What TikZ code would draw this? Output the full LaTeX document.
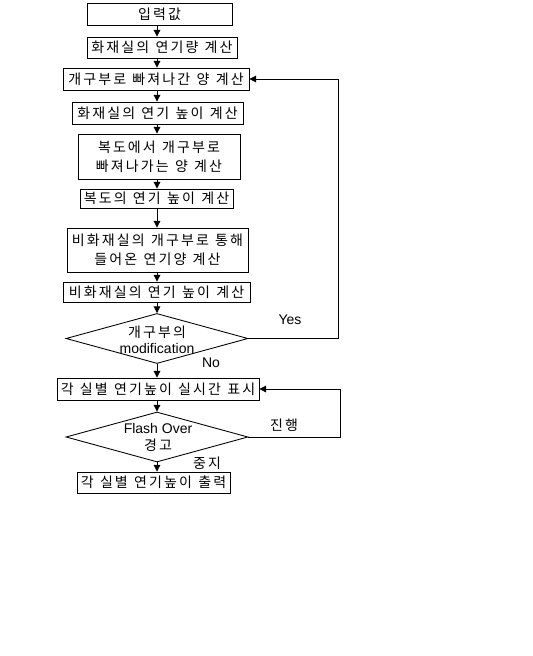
\documentclass[tikz,border=0pt]{standalone}
\usepackage{fontspec}
\setmainfont{Noto Sans CJK KR}
\newfontfamily\latinfont{Liberation Sans}
\usetikzlibrary{arrows.meta,shapes.geometric}
\newcommand\widewords{\spaceskip=0.45em\relax}
\begin{document}
\begin{tikzpicture}[x=0.75pt,y=-0.75pt,
  box/.style={draw,line width=0.65pt,rectangle,inner sep=0pt,align=center,
    font=\fontsize{10.5pt}{14pt}\selectfont\addfontfeature{LetterSpace=15}\widewords},
  dia/.style={draw,line width=0.65pt,diamond,aspect=3.64,inner sep=0pt},
  arr/.style={line width=0.65pt,-{Triangle[length=5pt,width=5pt]}},
  lbl/.style={font=\latinfont\fontsize{10.5pt}{13pt}\selectfont},
  klbl/.style={font=\fontsize{10.5pt}{13pt}\selectfont\addfontfeature{LetterSpace=15}}]
\useasboundingbox (0,0) rectangle (532,656);
\fill[white] (0,0) rectangle (532,656);
\node[box,minimum width=145*0.75pt,minimum height=22*0.75pt] (b1) at (159.5,14) {입력값};
\node[box,minimum width=150*0.75pt,minimum height=21*0.75pt] (b2) at (162,47.5) {화재실의 연기량 계산};
\node[box,minimum width=186*0.75pt,minimum height=22*0.75pt] (b3) at (156,79) {개구부로 빠져나간 양 계산};
\node[box,minimum width=171*0.75pt,minimum height=22*0.75pt] (b4) at (157.5,113) {화재실의 연기 높이 계산};
\node[box,minimum width=162*0.75pt,minimum height=45*0.75pt] (b5) at (159,156.5) {복도에서 개구부로\\빠져나가는 양 계산};
\node[box,minimum width=153*0.75pt,minimum height=19*0.75pt] (b6) at (156.5,198.5) {복도의 연기 높이 계산};
\node[box,minimum width=181*0.75pt,minimum height=44*0.75pt] (b7) at (157.5,250) {비화재실의 개구부로 통해\\들어온 연기양 계산};
\node[box,minimum width=187*0.75pt,minimum height=20*0.75pt] (b8) at (156.5,292) {비화재실의 연기 높이 계산};
\node[dia,minimum width=182*0.75pt,minimum height=50*0.75pt] (d1) at (157,338.5) {};
\node[klbl] (t1a) at (157,332) {개구부의};
\node[lbl] (t1b) at (157,348) {modification};
\node[box,minimum width=202*0.75pt,minimum height=22*0.75pt] (b9) at (158,389) {각 실별 연기높이 실시간 표시};
\node[dia,minimum width=182*0.75pt,minimum height=50*0.75pt] (d2) at (157,437) {};
\node[lbl] (t2a) at (158,428) {Flash Over};
\node[klbl] (t2b) at (158,445) {경고};
\node[box,minimum width=153*0.75pt,minimum height=21*0.75pt] (b10) at (153.5,482.5) {각 실별 연기높이 출력};
\node[lbl] (yes) at (290,320) {Yes};
\node[lbl] (no) at (211,363) {No};
\node[klbl] (go) at (284,425) {진행};
\node[klbl] (stop) at (207,463) {중지};
\coordinate (c1) at (338,338.5);
\coordinate (c2) at (338,79);
\coordinate (c3) at (340,437);
\coordinate (c4) at (340,389);
\draw[arr] (b1.south -| 157,0) -- (b2.north -| 157,0);
\draw[arr] (b2.south -| 157,0) -- (b3.north -| 157,0);
\draw[arr] (b3.south -| 157,0) -- (b4.north -| 157,0);
\draw[arr] (b4.south -| 157,0) -- (b5.north -| 157,0);
\draw[arr] (b5.south -| 157,0) -- (b6.north -| 157,0);
\draw[arr] (b6.south -| 157,0) -- (b7.north -| 157,0);
\draw[arr] (b7.south -| 157,0) -- (b8.north -| 157,0);
\draw[arr] (b8.south -| 157,0) -- (d1.north);
\draw[arr] (d1.south) -- (b9.north -| 157,0);
\draw[arr] (b9.south -| 157,0) -- (d2.north);
\draw[arr] (d2.south) -- (b10.north -| 157,0);
\draw[arr] (d1.east) -- (c1) -- (c2) -- (b3.east);
\draw[arr] (d2.east) -- (c3) -- (c4) -- (b9.east);
\end{tikzpicture}
\end{document}
